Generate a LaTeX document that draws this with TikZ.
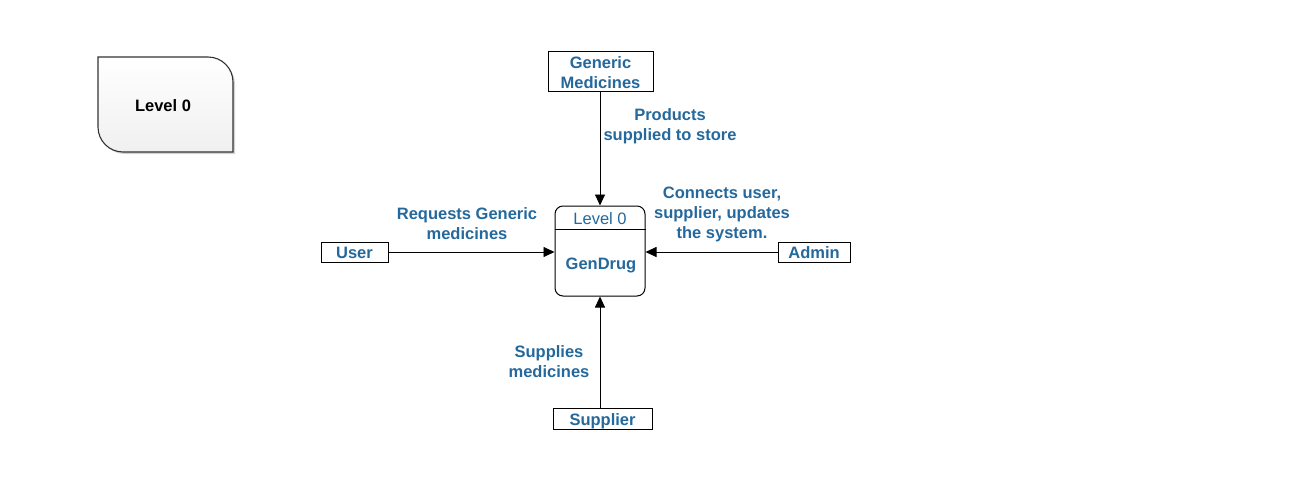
\documentclass[tikz,border=0pt]{standalone}
\usepackage{fontspec}
\setmainfont{Liberation Sans}
\usetikzlibrary{arrows.meta,shadows}
\def\dfdsize{\fontsize{16.5}{20}\selectfont}
\colorlet{flow text}{rgb,255:red,36;green,104;blue,156}
\colorlet{box edge}{black}
\colorlet{level edge}{black!80}
\tikzset{entity/.style={draw=box edge, line width=0.9pt, fill=white, inner sep=0pt,
        font=\dfdsize\bfseries, text=flow text, align=center, text height=13pt, text depth=0pt},
    flowlabel/.style={font=\dfdsize\bfseries, text=flow text, align=center, inner sep=0pt},
    flow/.style={draw=black, line width=0.9pt, -{Triangle[length=11pt,width=10pt]}},
    process/.style={draw=box edge, line width=1pt, rounded corners=8pt,
        minimum width=90pt, minimum height=90pt, inner sep=0pt}}

\begin{document}
\begin{tikzpicture}[x=1pt, y=-1pt, font=\dfdsize]
 \useasboundingbox (0,0) rectangle (1301,490);

 % level tag, top left
 \draw[draw=level edge, line width=1.1pt, top color=white, bottom color=black!6,
   drop shadow={shadow xshift=2pt, shadow yshift=-2pt, opacity=0.35}]
   (98,57) -- (208,57) arc[start angle=-90, end angle=0, radius=25]
   -- (233,152) -- (123,152) arc[start angle=90, end angle=180, radius=25] -- cycle;
 \node[font=\dfdsize\bfseries] (tag) at (163,105.5) {Level 0};

 % the process
 \node[process] (proc) at (600,251) {};
 \draw[draw=box edge, line width=1pt] (proc.west |- 0,229) -- (proc.east |- 0,229);
 \node[text=flow text] (lvl) at (600,219) {Level 0};
 \node[font=\dfdsize\bfseries, text=flow text] (gendrug) at (601,265) {GenDrug};

 % external entities
 \node[entity, minimum width=105pt, minimum height=40pt, text height=34pt] (generic) at (600.5,71) {Generic\\Medicines};
 \node[entity, minimum width=67pt, minimum height=20pt] (user) at (354.5,252) {User};
 \node[entity, minimum width=72pt, minimum height=20pt] (admin) at (814,252) {Admin};
 \node[entity, minimum width=99pt, minimum height=21pt] (supplier) at (602.5,418.5) {Supplier};

 % data flows
 \draw[flow] (generic.south -| proc.north) -- (proc.north);
 \draw[flow] (supplier.north -| proc.south) -- (proc.south);
 \draw[flow] (user) -- (proc.west |- user);
 \draw[flow] (admin) -- (proc.east |- admin);

 \node[flowlabel] (l1) at (670,126) {Products\\supplied to store};
 \node[flowlabel] (l2) at (722,214) {Connects user,\\supplier, updates\\the system.};
 \node[flowlabel] (l3) at (467,224) {Requests Generic\\medicines};
 \node[flowlabel] (l4) at (549,362) {Supplies\\medicines};

\end{tikzpicture}
\end{document}
